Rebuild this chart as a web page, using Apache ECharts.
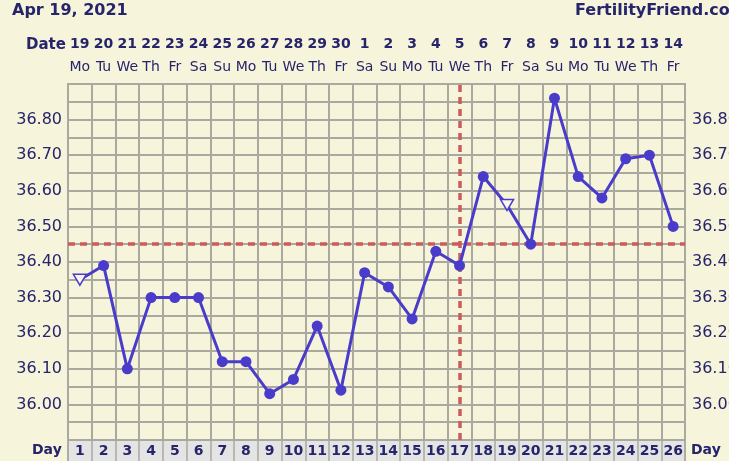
<!DOCTYPE html>
<html>
<head>
<meta charset="utf-8">
<script src="https://cdn.jsdelivr.net/npm/echarts@6/dist/echarts.min.js"></script>
<style>
html,body{margin:0;padding:0;background:#f7f4dc;}
#chart{width:729px;height:461px;}
</style>
</head>
<body>
<div id="chart"></div>
<script>
// ---- data ----
const dayNumbers = ['1','2','3','4','5','6','7','8','9','10','11','12','13','14','15','16','17','18','19','20','21','22','23','24','25','26'];
const dates = ['19','20','21','22','23','24','25','26','27','28','29','30','1','2','3','4','5','6','7','8','9','10','11','12','13','14'];
const weekdays = ['Mo','Tu','We','Th','Fr','Sa','Su','Mo','Tu','We','Th','Fr','Sa','Su','Mo','Tu','We','Th','Fr','Sa','Su','Mo','Tu','We','Th','Fr'];
const temps = [36.35,36.39,36.10,36.30,36.30,36.30,36.12,36.12,36.03,36.07,36.22,36.04,36.37,36.33,36.24,36.43,36.39,36.64,36.56,36.45,36.86,36.64,36.58,36.69,36.70,36.50];
const openMarkerDays = ['1','19'];
const coverline = 36.45;
const ovulationDay = '17';
const yMin = 35.90, yMax = 36.90, yStep = 0.05;
const titleText = 'Apr 19, 2021';
const siteText = 'FertilityFriend.com';

// ---- styles ----
const navy = '#26246a';
const gridGray = '#aaa9a0';
const lineBlue = '#4a3ccb';
const redDash = '#cc5b5b';
const font = 'DejaVu Sans';

const chart = echarts.init(document.getElementById('chart'), null, {renderer:'canvas'});

const seriesData = temps.map((t, i) => {
  if (openMarkerDays.includes(dayNumbers[i])) {
    return {value: t, symbol: 'triangle', symbolRotate: 180, symbolSize: [13, 11],
      itemStyle: {color: '#f9f7ea', borderColor: lineBlue, borderWidth: 1.5}};
  }
  return t;
});

const yLabel = v => {
  const c = Math.round(v * 100);
  if (c % 10 !== 0 || c < 3600 || c > 3680) return '';
  return (c / 100).toFixed(2);
};

chart.setOption({
  backgroundColor: '#f7f4dc',
  animation: false,
  textStyle: {fontFamily: font},
  grid: [
    {left: 68, top: 84, width: 617, height: 356, show: true, borderColor: gridGray, borderWidth: 2,
      backgroundColor: 'transparent', containLabel: false, outerBoundsMode: 'none'},
    {left: 68, top: 440, width: 617, height: 30, show: true, borderColor: gridGray, borderWidth: 1.5,
      backgroundColor: '#e4e4e4', containLabel: false, outerBoundsMode: 'none'}
  ],
  xAxis: [
    {type: 'category', gridIndex: 0, data: dayNumbers, boundaryGap: true, position: 'bottom',
      axisLine: {show: false}, axisTick: {show: false}, axisLabel: {show: false},
      splitLine: {show: true, interval: 0, lineStyle: {color: gridGray, width: 2}}},
    {type: 'category', gridIndex: 0, data: dayNumbers, boundaryGap: true, position: 'top',
      axisLine: {show: false}, axisTick: {show: false}, splitLine: {show: false},
      axisLabel: {show: true, interval: 0, margin: 5,
        formatter: (v, i) => '{d|' + dates[i] + '}\n{w|' + weekdays[i] + '}',
        rich: {
          d: {fontFamily: font, fontWeight: 'bold', fontSize: 14, color: navy, lineHeight: 23},
          w: {fontFamily: font, fontSize: 14, color: navy, lineHeight: 23}
        }}},
    {type: 'category', gridIndex: 1, data: dayNumbers, boundaryGap: true, position: 'top',
      axisLine: {show: false}, axisTick: {show: false},
      splitLine: {show: true, interval: 0, lineStyle: {color: gridGray, width: 1.5}},
      axisLabel: {show: true, inside: true, interval: 0, margin: 4,
        fontFamily: font, fontWeight: 'bold', fontSize: 14, color: navy}}
  ],
  yAxis: [
    {type: 'value', gridIndex: 0, min: yMin, max: yMax, interval: yStep, position: 'left',
      axisLine: {show: false}, axisTick: {show: false},
      splitLine: {show: true, lineStyle: {color: gridGray, width: 2}},
      axisLabel: {show: true, margin: 6, formatter: yLabel, fontFamily: font, fontSize: 16, color: navy}},
    {type: 'value', gridIndex: 0, min: yMin, max: yMax, interval: yStep, position: 'right',
      axisLine: {show: false}, axisTick: {show: false}, splitLine: {show: false},
      axisLabel: {show: true, margin: 7, formatter: yLabel, fontFamily: font, fontSize: 16, color: navy}},
    {type: 'value', gridIndex: 1, min: 0, max: 1, show: false}
  ],
  series: [{
    type: 'line',
    xAxisIndex: 0, yAxisIndex: 0,
    data: seriesData,
    symbol: 'circle', symbolSize: 11,
    lineStyle: {color: lineBlue, width: 3},
    itemStyle: {color: lineBlue},
    z: 5,
    markLine: {
      silent: true, symbol: 'none', label: {show: false},
      lineStyle: {color: redDash, width: 3.5, type: [7, 5]},
      data: [{yAxis: coverline}, {xAxis: ovulationDay}],
      z: 3
    }
  }],
  graphic: [
    {type: 'text', left: 12, top: 3, style: {text: titleText, fontFamily: font, fontWeight: 'bold', fontSize: 16, fill: navy}},
    {type: 'text', left: 575, top: 3, style: {text: siteText, fontFamily: font, fontWeight: 'bold', fontSize: 16, fill: navy}},
    {type: 'text', left: 26, top: 38, style: {text: 'Date', fontFamily: font, fontWeight: 'bold', fontSize: 15, fill: navy}},
    {type: 'text', left: 32, top: 443, style: {text: 'Day', fontFamily: font, fontWeight: 'bold', fontSize: 14, fill: navy}},
    {type: 'text', left: 691, top: 443, style: {text: 'Day', fontFamily: font, fontWeight: 'bold', fontSize: 14, fill: navy}}
  ]
});
</script>
</body>
</html>
